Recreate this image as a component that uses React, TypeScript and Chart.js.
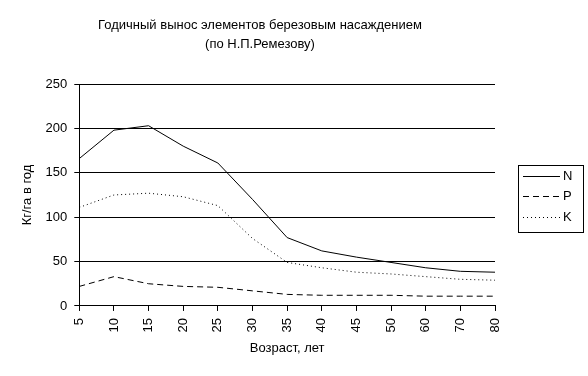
import React, { useEffect, useRef } from "react";
import { Chart, registerables } from "chart.js";

Chart.register(...registerables);

const ages = ["5", "10", "15", "20", "25", "30", "35", "40", "45", "50", "60", "70", "80"];
const nValues = [166, 198, 203, 180, 161, 120, 77, 62, 55, 49, 43, 39, 38];
const pValues = [22, 33, 25, 22, 21, 17, 13, 12, 12, 12, 11, 11, 11];
const kValues = [111, 125, 127, 123, 113, 76, 49, 43, 38, 36, 33, 30, 29];
const titleLines = ["Годичный вынос элементов березовым насаждением", "(по Н.П.Ремезову)"];
const yTitle = "Кг/га в год";
const xTitle = "Возраст, лет";

const FONT = "'Liberation Sans', Arial, sans-serif";

const customPlugin = {
  id: "customDecor",
  afterDraw(chart: any) {
    const ctx = chart.ctx;
    ctx.save();
    // title
    ctx.fillStyle = "#000";
    ctx.font = `13px ${FONT}`;
    ctx.textAlign = "center";
    ctx.textBaseline = "middle";
    ctx.fillText(titleLines[0], 260, 25);
    ctx.fillText(titleLines[1], 260, 44);
    // legend
    const bx = 518, by = 165, bw = 65, bh = 67;
    ctx.strokeStyle = "#000";
    ctx.lineWidth = 1;
    ctx.setLineDash([]);
    ctx.strokeRect(bx + 0.5, by + 0.5, bw, bh);
    const rows = [176, 196, 217];
    chart.data.datasets.forEach((ds: any, i: number) => {
      const y = rows[i] + 0.5;
      ctx.beginPath();
      ctx.setLineDash(ds.borderDash || []);
      ctx.strokeStyle = ds.borderColor;
      ctx.lineWidth = ds.borderWidth;
      ctx.moveTo(523, y);
      ctx.lineTo(560, y);
      ctx.stroke();
      ctx.setLineDash([]);
      ctx.fillStyle = "#000";
      ctx.font = `13px ${FONT}`;
      ctx.textAlign = "left";
      ctx.textBaseline = "middle";
      ctx.fillText(ds.label, 563, rows[i]);
    });
    ctx.restore();
  },
};

export default function App() {
  const ref = useRef<HTMLCanvasElement | null>(null);
  useEffect(() => {
    if (!ref.current) return;
    const chart = new Chart(ref.current, {
      type: "line",
      data: {
        labels: ages,
        datasets: [
          { label: "N", data: nValues, borderColor: "#000", borderWidth: 1, pointRadius: 0, tension: 0, fill: false },
          { label: "P", data: pValues, borderColor: "#000", borderWidth: 1, borderDash: [6, 4], pointRadius: 0, tension: 0, fill: false },
          { label: "K", data: kValues, borderColor: "#000", borderWidth: 1, borderDash: [1, 3], pointRadius: 0, tension: 0, fill: false },
        ],
      },
      options: {
        animation: false,
        responsive: false,
        maintainAspectRatio: false,
        layout: { padding: { top: 84, left: 20, right: 93, bottom: 20 } },
        plugins: { legend: { display: false }, title: { display: false }, tooltip: { enabled: false } },
        scales: {
          x: {
            offset: false,
            grid: { drawOnChartArea: false, drawTicks: true, tickLength: 5, color: "#000" },
            border: { display: true, color: "#000" },
            ticks: { color: "#000", font: { family: FONT, size: 13 }, minRotation: 90, maxRotation: 90, autoSkip: false, padding: 7 },
            title: { display: true, text: xTitle, color: "#000", font: { family: FONT, size: 13 }, padding: { top: 1, bottom: 0 } },
          },
          y: {
            min: 0,
            max: 250,
            ticks: { stepSize: 50, color: "#000", font: { family: FONT, size: 13 }, padding: 7 },
            grid: { color: "#000", tickLength: 5, lineWidth: 1 },
            border: { display: true, color: "#000" },
            title: { display: true, text: yTitle, color: "#000", font: { family: FONT, size: 13 }, padding: { top: 0, bottom: 3 } },
          },
        },
      },
      plugins: [customPlugin],
    });
    return () => chart.destroy();
  }, []);
  return (
    <div style={{ position: "fixed", left: 0, top: 0, width: 588, height: 376, background: "#fff" }}>
      <canvas ref={ref} width={588} height={376} style={{ width: 588, height: 376, display: "block" }} />
    </div>
  );
}
